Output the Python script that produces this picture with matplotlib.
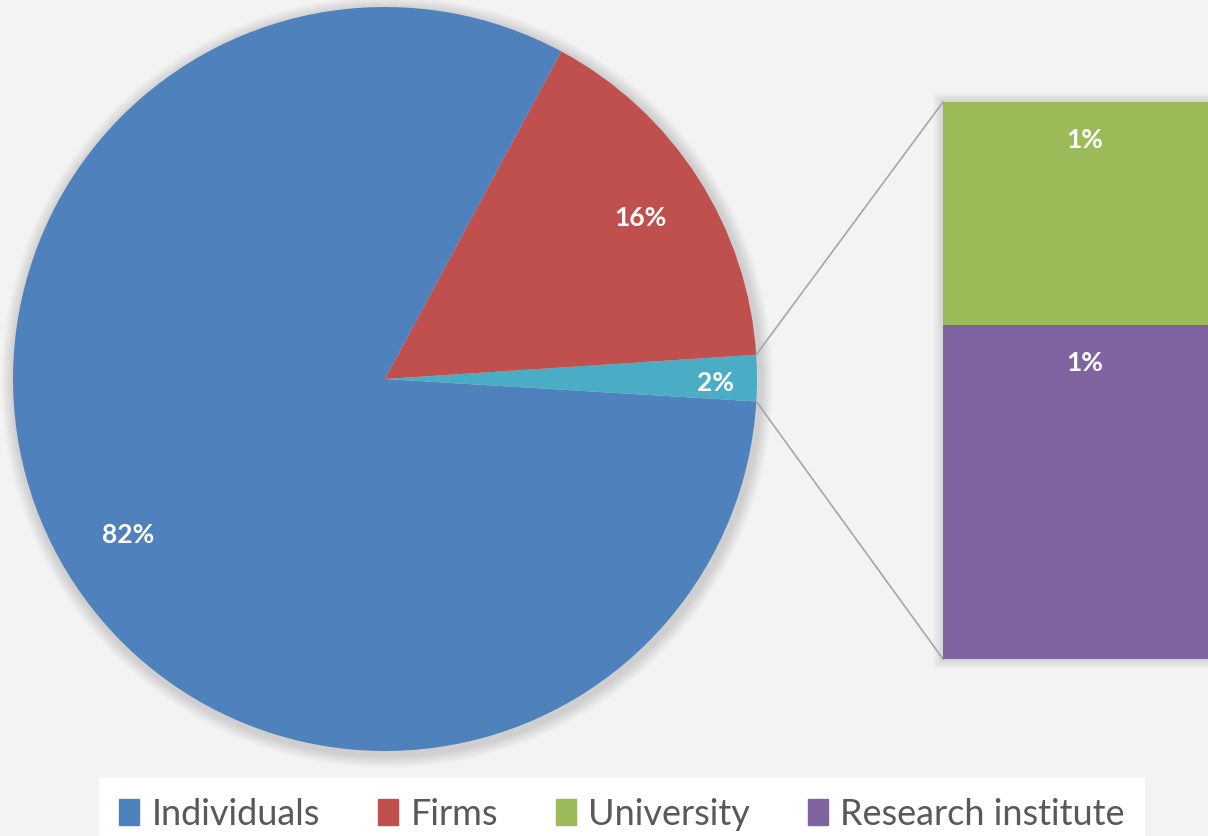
import numpy as np
import matplotlib.pyplot as plt
from matplotlib.patches import Rectangle, Circle

# data
pie_labels = ["Individuals", "Firms", "Other"]
pie_values = [81.9, 16.1, 2.0]
bar_labels = ["University", "Research institute"]
bar_values = [0.8, 1.2]
pie_text = ["82%", "16%", "2%"]
bar_text = ["1%", "1%"]

pie_colors = ["#4f81bd", "#c0504d", "#4bacc6"]
bar_colors = ["#9bbb59", "#8064a2"]
bg = "#f3f3f3"

W, H = 1208, 837
fig = plt.figure(figsize=(W / 100, H / 100), dpi=100, facecolor=bg)
ax = fig.add_axes([0, 0, 1, 1])
ax.set_facecolor(bg)

cx, cy, r = 385, 457, 372

# soft shadow around pie
for i in range(12):
    ax.add_patch(Circle((cx + 2, cy - 3), r + 14 - i, color="#000000",
                        alpha=0.012, lw=0, zorder=0))

# counterclockwise order: Individuals, Other, Firms
order = [0, 2, 1]
start = 61.7
ax.pie([pie_values[i] for i in order], colors=[pie_colors[i] for i in order],
       startangle=start, center=(cx, cy), radius=r, counterclock=True,
       wedgeprops=dict(linewidth=0), frame=True)
ax.set_xlim(0, W)
ax.set_ylim(0, H)
ax.set_aspect("equal")
ax.axis("off")

# pie labels
lab_pos = [(128, H - 535), (640, H - 218), (716, H - 383)]
for (x, y), t in zip(lab_pos, pie_text):
    ax.text(x, y, t, color="white", fontsize=19, fontweight="bold",
            family="Lato", ha="center", va="center")

# stacked bar of the "Other" slice
bx, bw = 943, 300
btop, bbot = H - 103, H - 660
scale = (btop - bbot) / sum(bar_values)
for i in range(10):
    ax.add_patch(Rectangle((bx - 10 + i, bbot - 10 + i), bw, btop - bbot + 20 - 2 * i,
                           color="#000000", alpha=0.012, lw=0, zorder=0))
bottom = btop
for v, c, t in zip(bar_values, bar_colors, bar_text):
    h = v * scale
    bottom -= h
    ax.bar(bx, h, width=bw, bottom=bottom, align="edge", color=c, lw=0, zorder=2)
    ax.text(1085, bottom + h - 37, t, color="white", fontsize=19,
            fontweight="bold", family="Lato", ha="center", va="center", zorder=3)

# connector lines from the edges of the "Other" wedge
a1 = np.deg2rad(start + 360 * (pie_values[0] + pie_values[2]) / 100)
a2 = np.deg2rad(start + 360 * pie_values[0] / 100)
p1 = (cx + r * np.cos(a1), cy + r * np.sin(a1))
p2 = (cx + r * np.cos(a2), cy + r * np.sin(a2))
ax.plot([p1[0], bx], [p1[1], btop], color="#a6a6a6", lw=1.2, zorder=1)
ax.plot([p2[0], bx], [p2[1], bbot], color="#a6a6a6", lw=1.2, zorder=1)

# legend
handles = [Rectangle((0, 0), 1, 1, color=c) for c in
           [pie_colors[0], pie_colors[1]] + bar_colors]
names = [pie_labels[0], pie_labels[1]] + bar_labels
leg = ax.legend(handles, names, loc="center", bbox_to_anchor=(622 / W, (H - 815) / H),
                ncol=4, frameon=True, fancybox=False, facecolor="white",
                edgecolor="none", framealpha=1, handlelength=0.55, handleheight=0.75,
                handletextpad=0.35, columnspacing=1.6, borderpad=0.55,
                borderaxespad=0, prop=dict(family="Lato", size=26))
for t in leg.get_texts():
    t.set_color("#595959")

fig.savefig("out.png", dpi=100, facecolor=bg)
